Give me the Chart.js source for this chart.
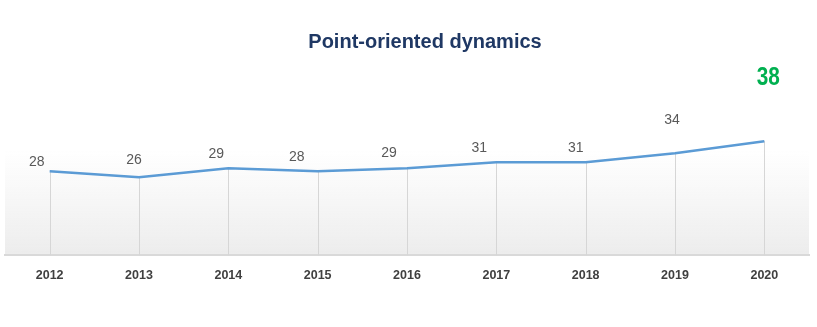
<!DOCTYPE html>
<html>
<head>
<meta charset="utf-8">
<script src="https://cdn.jsdelivr.net/npm/chart.js@4"></script>
<style>
  html, body { margin: 0; padding: 0; background: #ffffff; }
  #wrap { width: 817px; height: 327px; position: relative; }
</style>
</head>
<body>
<div id="wrap"><canvas id="dynCanvas"></canvas></div>
<script>
// data
const years = ['2012', '2013', '2014', '2015', '2016', '2017', '2018', '2019', '2020'];
const values = [28, 26, 29, 28, 29, 31, 31, 34, 38];
const chartTitle = 'Point-oriented dynamics';

// label nudges (px) relative to each point, as placed in the original
const labelDx = [-13, -5, -12, -21, -18, -17, -10, -3, 4];
const labelDy = [-9, -17, -14, -14, -15, -14, -14, -33, -63];

// background gradient, drop lines, title and value labels
const decorPlugin = {
    id: 'decor',
    beforeDraw(chart) {
        const { ctx, chartArea } = chart;
        const grad = ctx.createLinearGradient(0, 150, 0, chartArea.bottom);
        grad.addColorStop(0, 'rgba(238,238,238,0)');
        grad.addColorStop(1, 'rgba(236,236,236,1)');
        ctx.save();
        ctx.fillStyle = grad;
        ctx.fillRect(chartArea.left, 150, chartArea.right - chartArea.left, chartArea.bottom - 150);
        ctx.restore();
    },
    beforeDatasetsDraw(chart) {
        const { ctx, chartArea } = chart;
        const meta = chart.getDatasetMeta(0);
        ctx.save();
        ctx.strokeStyle = '#d6d6d6';
        ctx.lineWidth = 1;
        meta.data.forEach(pt => {
            const x = Math.round(pt.x) + 0.5;
            ctx.beginPath();
            ctx.moveTo(x, pt.y);
            ctx.lineTo(x, chartArea.bottom);
            ctx.stroke();
        });
        ctx.restore();
    },
    afterDatasetsDraw(chart) {
        const { ctx } = chart;
        const meta = chart.getDatasetMeta(0);
        const last = values.length - 1;
        ctx.save();
        ctx.textAlign = 'center';
        ctx.textBaseline = 'middle';
        meta.data.forEach((pt, i) => {
            const x = pt.x + labelDx[i];
            const y = pt.y + labelDy[i];
            if (i === last) {
                // the highlighted last value is a tall, condensed green figure
                ctx.save();
                ctx.font = 'bold 26px "Liberation Sans", Arial, sans-serif';
                ctx.fillStyle = '#00b050';
                ctx.translate(x, y);
                ctx.scale(0.8, 1);
                ctx.fillText(String(values[i]), 0, 0);
                ctx.restore();
            } else {
                ctx.font = '14px "Liberation Sans", Arial, sans-serif';
                ctx.fillStyle = '#595959';
                ctx.fillText(String(values[i]), x, y);
            }
        });
        // title sits a little right of centre in the original
        ctx.font = 'bold 20px "Liberation Sans", Arial, sans-serif';
        ctx.fillStyle = '#1f3864';
        ctx.fillText(chartTitle, 425, 42);
        ctx.restore();
    }
};

new Chart(document.getElementById('dynCanvas').getContext('2d'), {
    type: 'line',
    data: {
        labels: years,
        datasets: [{
            data: values,
            borderColor: '#5b9bd5',
            borderWidth: 2.5,
            pointRadius: 0,
            fill: false,
            tension: 0
        }]
    },
    options: {
        responsive: true,
        maintainAspectRatio: false,
        animation: false,
        layout: { padding: { top: 75, left: 5, right: 8, bottom: 30.6 } },
        scales: {
            x: {
                offset: true,
                grid: { display: false, drawTicks: false },
                border: { display: true, color: '#d9d9d9', width: 2 },
                ticks: {
                    padding: 13,
                    color: '#404040',
                    font: { family: '"Liberation Sans", Arial, sans-serif', size: 12.5, weight: 'bold' }
                }
            },
            y: {
                display: false,
                min: 0,
                max: 60
            }
        },
        plugins: {
            legend: { display: false },
            tooltip: { enabled: false },
            title: { display: false }
        }
    },
    plugins: [decorPlugin]
});
</script>
</body>
</html>
